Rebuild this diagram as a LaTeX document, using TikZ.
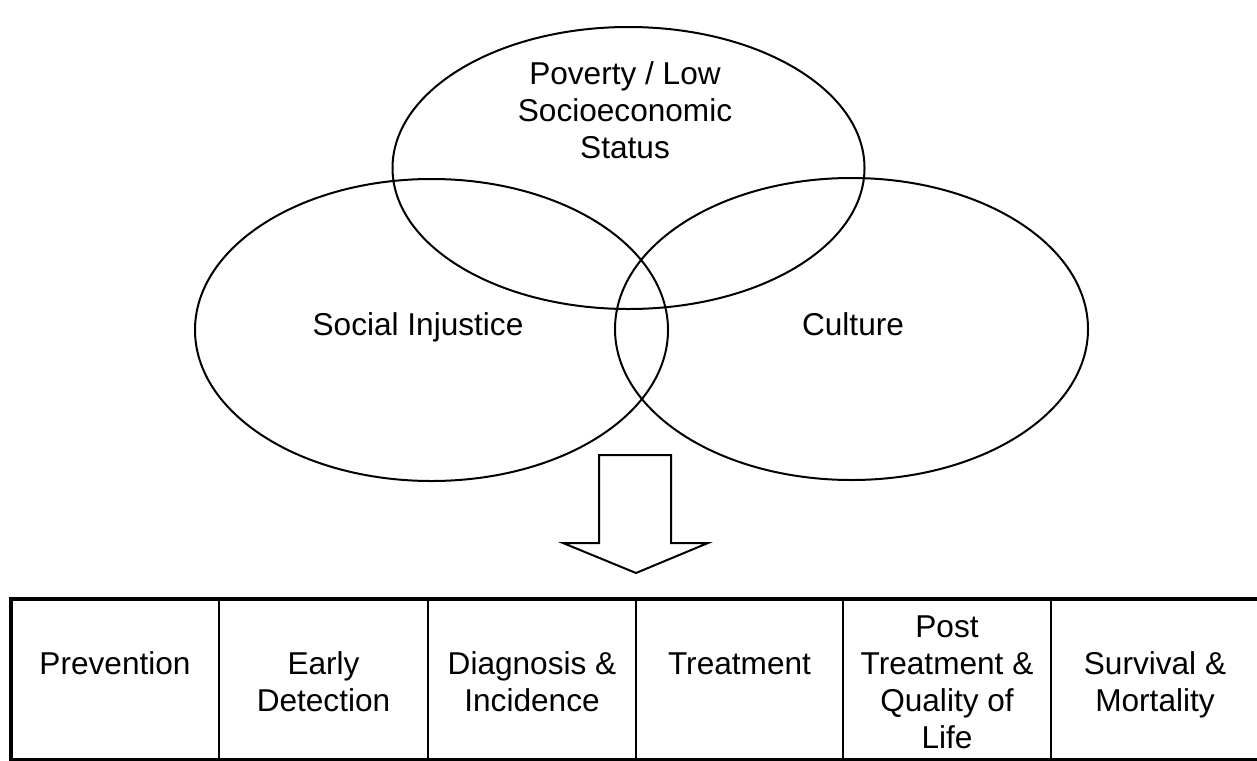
\documentclass[tikz,border=0pt]{standalone}
\usepackage{fontspec}
\setmainfont{Liberation Sans}
\begin{document}
\begin{tikzpicture}[x=0.5pt,y=-0.5pt,
    txt/.style={align=center, anchor=base, inner sep=0pt, font=\fontsize{15.8}{18.5}\selectfont}]

    \useasboundingbox (0,0) rectangle (1257,760);

    \draw [line width=1pt] (628.5,168) ellipse (236 and 141);
    \draw [line width=1pt] (431.5,330) ellipse (236.5 and 151);
    \draw [line width=1pt] (851.5,329) ellipse (236.5 and 151);

    % base = last line
    \node[txt] (pov) at (625,158) {Poverty / Low\\Socioeconomic\\Status};
    \node[txt] (inj) at (418,335) {Social Injustice};
    \node[txt] (cul) at (853,335) {Culture};

    % block arrow
    \draw [line width=1pt, line join=miter] (599,455) -- (671,455) -- (671,543) -- (708,543)
        -- (636,573) -- (563,543) -- (599,543) -- cycle;

    % table
    \draw [line width=1.6pt] (1259,599) -- (11,599) -- (11,760) -- (1259,760);
    \foreach \x in {219,428,636,843,1051}
        \draw [line width=1.1pt] (\x,599) -- (\x,760);

    \node[txt] (prev) at (115,674) {Prevention};
    \node[txt] (early) at (323.5,711) {Early\\Detection};
    \node[txt] (diag) at (532,711) {Diagnosis \&\\Incidence};
    \node[txt] (treat) at (739.5,674) {Treatment};
    \node[txt] (post) at (947,748) {Post\\Treatment \&\\Quality of\\Life};
    \node[txt] (surv) at (1155,711) {Survival \&\\Mortality};
\end{tikzpicture}
\end{document}
